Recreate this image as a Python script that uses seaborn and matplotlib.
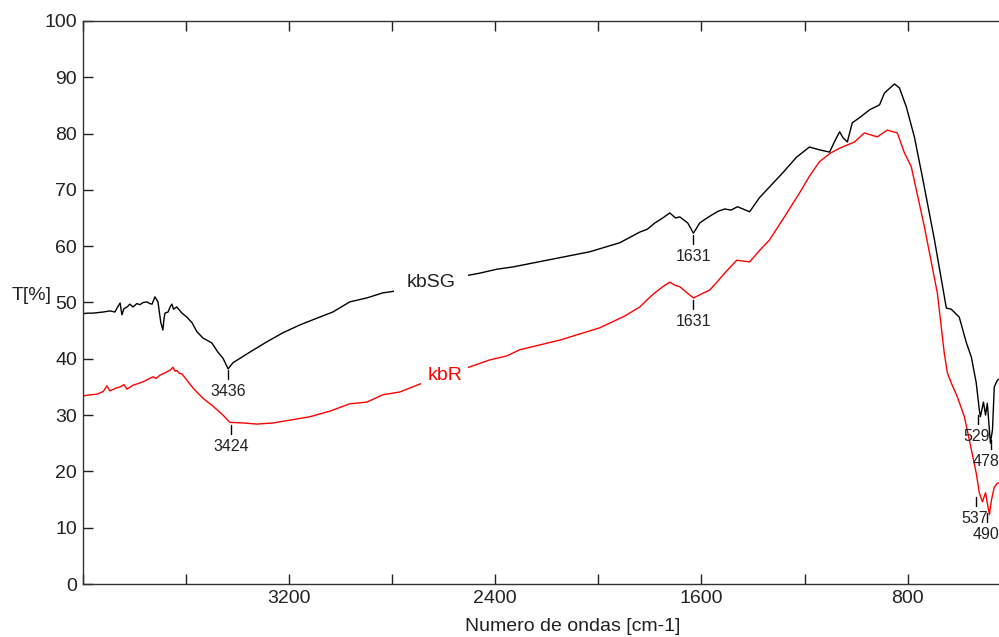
import numpy as np
import pandas as pd
import matplotlib
matplotlib.use('Agg')
import matplotlib.pyplot as plt
import seaborn as sns

# espectro kbSG (curva preta): numero de ondas [cm-1] e T[%]
wn_sg = [4000, 3980, 3960, 3921, 3894, 3875, 3867, 3855, 3848, 3840,
         3828, 3817, 3805, 3790, 3778, 3765, 3751, 3740, 3731, 3725,
         3720, 3708, 3704, 3697, 3689, 3685, 3681, 3669, 3660, 3654,
         3648, 3642, 3635, 3615, 3596, 3576, 3557, 3534, 3499, 3476,
         3456, 3436, 3417, 3351, 3286, 3224, 3158, 3092, 3030, 2964,
         2898, 2836, 2790, 2700, 2600, 2495, 2460, 2394, 2332, 2188,
         2033, 1917, 1839, 1810, 1781, 1750, 1723, 1700, 1684, 1653,
         1631, 1607, 1585, 1561, 1535, 1510, 1485, 1460, 1413, 1375,
         1328, 1285, 1231, 1181, 1142, 1103, 1080, 1064, 1050, 1034,
         1015, 987, 948, 909, 890, 851, 832, 805, 774, 743,
         696, 650, 631, 600, 572, 553, 534, 522, 518, 506,
         498, 491, 479, 471, 464, 452, 425, 400]
t_sg = [48.0, 48.1, 48.1, 48.3, 48.5, 48.3, 49.0, 49.9, 47.8, 48.9,
        49.2, 49.7, 49.2, 49.8, 49.6, 50.0, 50.1, 49.8, 49.7, 50.4,
        51.0, 50.1, 48.7, 46.4, 45.1, 47.0, 48.1, 48.3, 49.3, 49.7,
        48.8, 49.0, 49.2, 48.1, 47.4, 46.4, 44.8, 43.7, 42.8, 41.2,
        40.1, 38.2, 39.3, 41.2, 43.0, 44.6, 46.0, 47.2, 48.3, 50.1,
        50.8, 51.7, 52.0, 53.0, 54.1, 54.9, 55.2, 55.9, 56.3, 57.6,
        59.0, 60.6, 62.5, 63.0, 64.1, 65.0, 65.9, 65.0, 65.2, 64.1,
        62.3, 64.1, 64.8, 65.5, 66.2, 66.6, 66.4, 67.0, 66.1, 68.6,
        70.9, 73.0, 75.8, 77.6, 77.1, 76.7, 78.9, 80.3, 79.2, 78.5,
        81.9, 82.8, 84.2, 85.1, 87.2, 88.8, 88.1, 84.7, 79.4, 72.3,
        61.1, 49.0, 48.8, 47.4, 42.8, 40.3, 35.7, 30.9, 29.7, 32.3,
        30.0, 32.1, 25.0, 27.4, 35.0, 36.2, 37.0, 37.3]

# espectro kbR (curva vermelha)
wn_r = [4000, 3970, 3945, 3920, 3906, 3895, 3870, 3855, 3840, 3828,
        3805, 3785, 3766, 3745, 3727, 3715, 3700, 3685, 3673, 3660,
        3650, 3642, 3635, 3625, 3615, 3596, 3572, 3534, 3495, 3456,
        3429, 3378, 3324, 3262, 3196, 3119, 3041, 2964, 2898, 2836,
        2770, 2720, 2681, 2600, 2502, 2421, 2355, 2305, 2150, 1994,
        1897, 1839, 1810, 1781, 1750, 1723, 1700, 1684, 1653, 1631,
        1600, 1568, 1540, 1510, 1463, 1413, 1375, 1336, 1278, 1220,
        1180, 1142, 1100, 1064, 1006, 968, 918, 879, 840, 813,
        786, 735, 685, 658, 646, 631, 607, 580, 561, 534,
        522, 510, 498, 483, 475, 464, 452, 425, 400]
t_r = [33.4, 33.6, 33.7, 34.2, 35.2, 34.3, 34.8, 35.0, 35.4, 34.6,
       35.3, 35.6, 35.9, 36.4, 36.8, 36.5, 37.1, 37.4, 37.7, 38.0,
       38.5, 37.8, 37.9, 37.4, 37.3, 36.2, 34.8, 33.0, 31.6, 30.0,
       28.7, 28.6, 28.4, 28.6, 29.1, 29.7, 30.7, 32.0, 32.3, 33.6,
       34.1, 35.0, 35.7, 37.0, 38.5, 39.8, 40.5, 41.6, 43.3, 45.5,
       47.6, 49.2, 50.5, 51.7, 52.8, 53.6, 53.0, 52.8, 51.6, 50.8,
       51.5, 52.2, 53.6, 55.2, 57.5, 57.2, 59.2, 61.1, 65.2, 69.4,
       72.5, 75.0, 76.5, 77.4, 78.5, 80.1, 79.4, 80.6, 80.1, 76.6,
       74.1, 63.4, 51.7, 41.0, 37.5, 35.7, 33.2, 29.7, 25.6, 19.7,
       16.2, 14.6, 16.2, 12.3, 14.9, 17.2, 17.9, 18.2, 18.5]

# picos marcados
peak_lbl = ['3436', '3424', '1631', '1631', '529', '478', '537', '490']
peak_wn = [3436, 3424, 1631, 1631, 526, 476, 534, 491]
peak_top = [38.0, 28.3, 61.9, 50.5, 30.0, 25.6, 15.5, 12.6]
peak_txt_wn = [3436, 3424, 1631, 1631, 533, 494, 541, 497]

xticks = [4000, 3600, 3200, 2800, 2400, 2000, 1600, 1200, 800, 400]
xtick_lbl = ['', '', '3200', '', '2400', '', '1600', '', '800', '']
yticks = list(range(0, 101, 10))

df = pd.concat([
    pd.DataFrame({'wn': wn_sg, 'T': t_sg, 'amostra': 'kbSG'}),
    pd.DataFrame({'wn': wn_r, 'T': t_r, 'amostra': 'kbR'}),
], ignore_index=True)

sns.set_style('ticks')
plt.rcParams['font.family'] = ['Liberation Sans', 'DejaVu Sans']

fig = plt.figure(figsize=(9.99, 6.37), dpi=100)
ax = fig.add_axes([0.0828, 0.0832, 0.929, 0.884])

sns.lineplot(data=df, x='wn', y='T', hue='amostra', estimator=None,
             palette={'kbSG': 'black', 'kbR': 'red'}, linewidth=1.0,
             legend=False, ax=ax)

ax.set_xlim(4000, 400)
ax.set_ylim(0, 100)
ax.set_xticks(xticks)
ax.set_xticklabels(xtick_lbl)
ax.set_yticks(yticks)
ax.tick_params(direction='in', length=7, width=1, top=True, right=True,
               labelsize=14, colors='#222222', pad=4)
for s in ax.spines.values():
    s.set_color('#333333')
    s.set_linewidth(1.0)

ax.set_xlabel('Numero de ondas [cm-1]', fontsize=14, color='#222222')
ax.xaxis.set_label_coords(0.528, -0.076)
ax.xaxis.label.set_va('center')
ax.set_ylabel('T[%]', fontsize=14, rotation=0, color='#222222')
ax.yaxis.set_label_coords(-0.0546, 0.513)
ax.yaxis.label.set_va('center')
ax.yaxis.label.set_ha('center')

ax.text(2650, 53.5, 'kbSG', fontsize=14, color='#222222', ha='center', va='center',
        zorder=5, bbox=dict(boxstyle='square,pad=0.65', fc='white', ec='none'))
ax.text(2596, 37.1, 'kbR', fontsize=14, color='red', ha='center', va='center',
        zorder=5, bbox=dict(boxstyle='square,pad=0.3', fc='white', ec='none'))

for lbl, w, top, tw in zip(peak_lbl, peak_wn, peak_top, peak_txt_wn):
    ax.plot([w, w], [top, top - 1.6], color='black', lw=1.0)
    ax.text(tw, top - 3.8, lbl, fontsize=11.5, color='#222222', ha='center', va='center')

fig.savefig('out.png', dpi=100, facecolor='white')
